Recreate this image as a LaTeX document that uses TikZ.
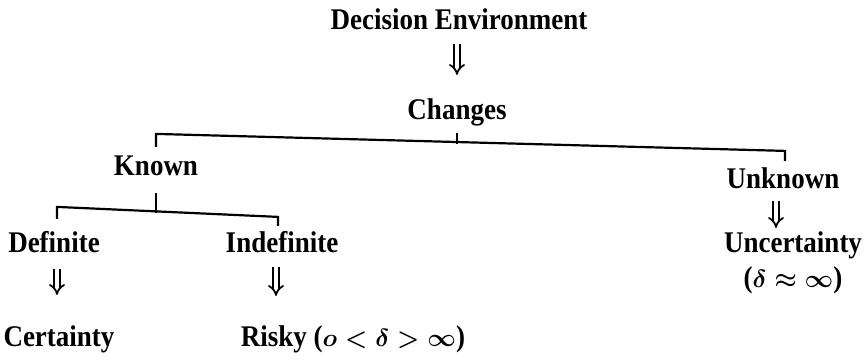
\documentclass[tikz,border=0pt]{standalone}
\usepackage{fontspec}
\setmainfont{Liberation Serif}[FakeStretch=0.9]
\usetikzlibrary{arrows.meta}

\begin{document}
\begin{tikzpicture}[x=1pt, y=-1pt, line width=2.2pt,
    nodes={font=\fontsize{30}{35}\selectfont\bfseries\boldmath, inner sep=0pt, text height=18pt, text depth=6pt},
    implies/.style={double, double distance=3.5pt, line width=1.8pt, -{Implies}}]
  \useasboundingbox (0,0) rectangle (864,361);
  \node (env) at (459,24) {Decision Environment};
  \node (changes) at (457,113) {Changes};
  \node (known) at (156,169) {Known};
  \node (unknown) at (783,182) {Unknown};
  \node (definite) at (54,246) {Definite};
  \node (indefinite) at (282,246) {Indefinite};
  \node (uncertainty) at (793,246) {Uncertainty};
  \node (uncval) at (793,281) {($\delta \approx \infty$)};
  \node (certainty) at (59,340) {Certainty};
  \node (risky) at (353,340) {Risky ($o < \delta > \infty$)};
  % brackets
  \draw ([yshift=-7pt]changes.south) -- ([yshift=-18pt]changes.south);
  \draw ([yshift=9pt]known.north) -- ++(0,-13) -- ([xshift=2pt,yshift=18pt]unknown.north) -- ([xshift=2pt,yshift=8pt]unknown.north);
  \draw ([yshift=-11pt]known.south) -- ([yshift=-31pt]known.south);
  \draw ([xshift=3pt,yshift=14pt]definite.north) -- ++(0,-12) -- ([xshift=-4pt,yshift=16pt]indefinite.north) -- ([xshift=-4pt,yshift=7pt]indefinite.north);
  % arrows
  \draw[implies, shorten <=7pt, shorten >=25pt] ([xshift=-2pt]env.south) -- ([xshift=-2pt]env.south |- changes.north);
  \draw[implies, shorten <=10pt, shorten >=32pt] ([xshift=3pt]definite.south) -- ([xshift=3pt]definite.south |- certainty.north);
  \draw[implies, shorten <=8pt, shorten >=31pt] ([xshift=-6pt]indefinite.south) -- ([xshift=-6pt]indefinite.south |- risky.north);
  \draw[implies, shorten <=6pt, shorten >=5pt] ([xshift=-7pt]unknown.south) -- ([xshift=-7pt]unknown.south |- uncertainty.north);
\end{tikzpicture}
\end{document}
